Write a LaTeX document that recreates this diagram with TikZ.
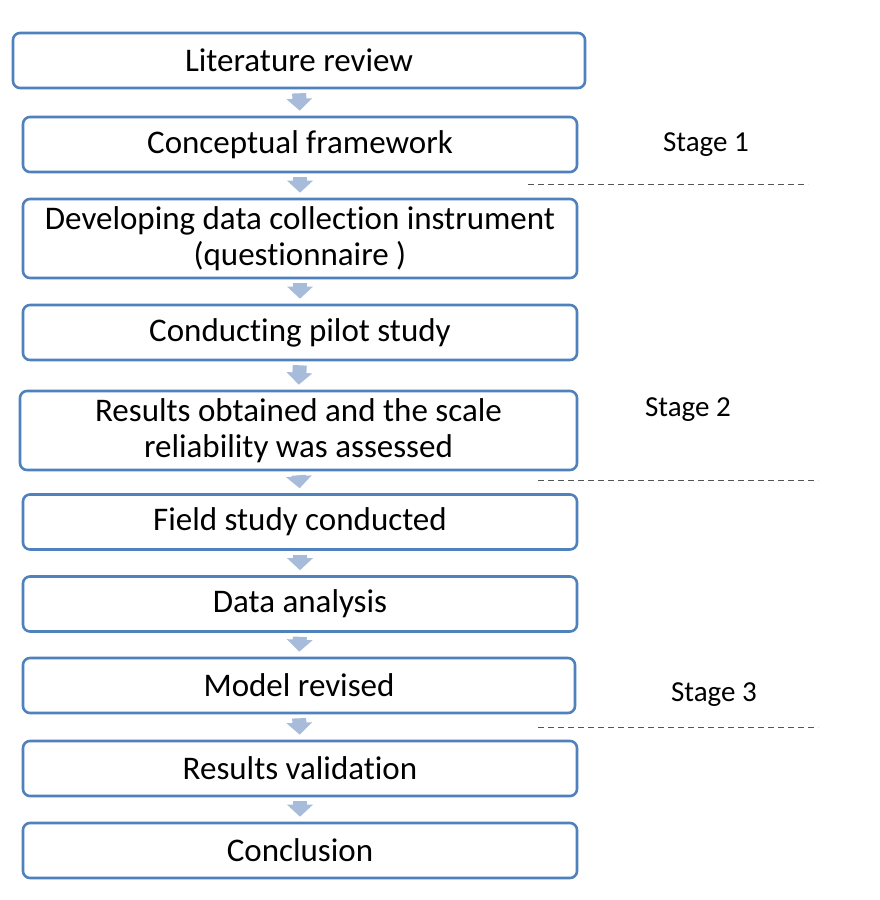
\documentclass[tikz,border=0pt]{standalone}
\usepackage{fontspec}
\setmainfont{Carlito}[Ligatures={NoCommon}]
\usetikzlibrary{arrows.meta,calc}
\definecolor{boxblue}{HTML}{4F81BD}
\definecolor{arrowblue}{HTML}{A7BBDA}
\definecolor{dashgray}{HTML}{555555}
\tikzset{
  stepbox/.style={draw=boxblue, line width=2.6pt, rounded corners=7pt, fill=white,
    minimum width=554pt, inner sep=0pt, align=center,
    font=\fontsize{33}{36}\selectfont, text=black},
  onerow/.style={minimum height=55pt},
  tworow/.style={minimum height=79pt},
  flow/.style={draw=arrowblue, line width=14pt,
    -{Triangle[width=25pt,length=12pt]}, shorten <=4pt, shorten >=5pt},
  stagelabel/.style={font=\fontsize{29}{32}\selectfont, text=black},
  stageline/.style={draw=dashgray, line width=1pt, dash pattern=on 6pt off 4pt}
}
\begin{document}
\begin{tikzpicture}[x=1pt,y=-1pt]
\useasboundingbox[fill=white] (0,0) rectangle (880,900);

% process steps
\node[stepbox,onerow,minimum width=572pt] (lit) at (299,60.5) {Literature review};
\node[stepbox,onerow] (concept) at (300,144.5) {Conceptual framework};
\node[stepbox,tworow] (instr) at (300,238.5) {Developing data collection instrument\\(questionnaire )};
\node[stepbox,onerow] (pilot) at (300,332.5) {Conducting pilot study};
\node[stepbox,tworow,minimum width=557pt] (results) at (298.5,430.5) {Results obtained and the scale\\reliability was assessed};
\node[stepbox,onerow] (field) at (300,522) {Field study conducted};
\node[stepbox,onerow] (analysis) at (300,604) {Data analysis};
\node[stepbox,onerow,minimum width=552pt] (model) at (299,685.5) {Model revised};
\node[stepbox,onerow] (valid) at (300,768.5) {Results validation};
\node[stepbox,onerow] (concl) at (300,850.5) {Conclusion};

% flow arrows
\foreach \a/\b in {lit/concept,concept/instr,instr/pilot,pilot/results,results/field,
                   field/analysis,analysis/model,model/valid,valid/concl}
  \draw[flow] (\a.south) -- (\b.north);

% stage labels and separators
\node[stagelabel] (s1) at (706,145) {Stage 1};
\node[stagelabel] (s2) at (688,410) {Stage 2};
\node[stagelabel] (s3) at (714,695) {Stage 3};

\coordinate (d1a) at (528,184); \coordinate (d1b) at (808,184);
\coordinate (d2a) at (538,480); \coordinate (d2b) at (818,480);
\coordinate (d3a) at (538,727); \coordinate (d3b) at (818,727);
\draw[stageline] (d1a) -- (d1b);
\draw[stageline] (d2a) -- (d2b);
\draw[stageline] (d3a) -- (d3b);
\end{tikzpicture}
\end{document}
